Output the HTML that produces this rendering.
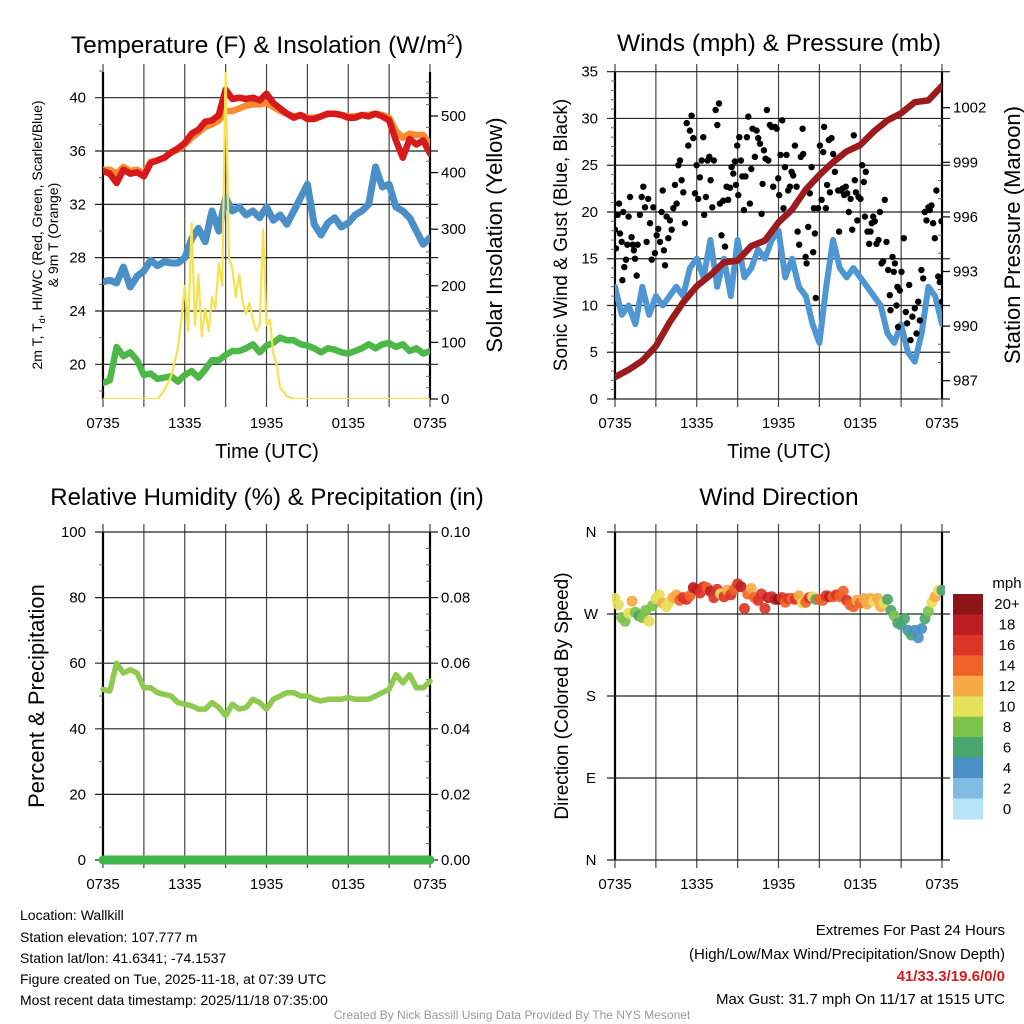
<!DOCTYPE html>
<html><head><meta charset="utf-8">
<style>
html,body{margin:0;padding:0;background:#fff;}
svg{display:block;font-family:"Liberation Sans",Arial,sans-serif;}
</style></head>
<body>
<svg id="root" width="1024" height="1024" viewBox="0 0 1024 1024" xmlns="http://www.w3.org/2000/svg">
<defs>
<clipPath id="c1"><rect x="103" y="72" width="327" height="327"/></clipPath>
<clipPath id="c2"><rect x="615" y="72" width="327" height="327"/></clipPath>
<clipPath id="c3"><rect x="95" y="528" width="345" height="340"/></clipPath>
<clipPath id="c4"><rect x="612" y="528" width="333" height="336"/></clipPath>
</defs>
<text x="267" y="53" font-size="24.5" text-anchor="middle">Temperature (F) &amp; Insolation (W/m<tspan dy="-9" font-size="15">2</tspan><tspan dy="9">)</tspan></text>
<text x="779" y="51" font-size="24.5" text-anchor="middle">Winds (mph) &amp; Pressure (mb)</text>
<text x="267" y="505" font-size="24" text-anchor="middle">Relative Humidity (%) &amp; Precipitation (in)</text>
<text x="779" y="505" font-size="24.5" text-anchor="middle">Wind Direction</text>

<text transform="translate(42,235) rotate(-90)" font-size="14" text-anchor="middle">2m T, T<tspan font-size="9" dy="3">d</tspan><tspan dy="-3">, HI/WC (Red, Green, Scarlet/Blue)</tspan></text>
<text transform="translate(58,235) rotate(-90)" font-size="14" text-anchor="middle">&amp; 9m T (Orange)</text>
<text transform="translate(502,235) rotate(-90)" font-size="22" text-anchor="middle">Solar Insolation (Yellow)</text>
<text x="267" y="458" font-size="20" text-anchor="middle">Time (UTC)</text>
<text x="779" y="458" font-size="20" text-anchor="middle">Time (UTC)</text>
<text transform="translate(567,235) rotate(-90)" font-size="19" text-anchor="middle">Sonic Wind &amp; Gust (Blue, Black)</text>
<text transform="translate(1020,235) rotate(-90)" font-size="22" text-anchor="middle">Station Pressure (Maroon)</text>
<text transform="translate(44,696) rotate(-90)" font-size="22" text-anchor="middle">Percent &amp; Precipitation</text>
<text transform="translate(568,696) rotate(-90)" font-size="19" text-anchor="middle">Direction (Colored By Speed)</text>

<g font-size="14">
<text x="20" y="920">Location: Wallkill</text>
<text x="20" y="942">Station elevation: 107.777 m</text>
<text x="20" y="963">Station lat/lon: 41.6341; -74.1537</text>
<text x="20" y="984">Figure created on Tue, 2025-11-18, at 07:39 UTC</text>
<text x="20" y="1005">Most recent data timestamp: 2025/11/18 07:35:00</text>
</g>
<g font-size="15" text-anchor="end">
<text x="1005" y="935">Extremes For Past 24 Hours</text>
<text x="1005" y="959">(High/Low/Max Wind/Precipitation/Snow Depth)</text>
<text x="1005" y="981" fill="#d7191c" font-weight="bold">41/33.3/19.6/0/0</text>
<text x="1005" y="1004">Max Gust: 31.7 mph On 11/17 at 1515 UTC</text>
</g>
<text x="512" y="1019" font-size="12" fill="#999" text-anchor="middle">Created By Nick Bassill Using Data Provided By The NYS Mesonet</text>
</svg>
<script>
// ---- data ----
const halfHours = [0,0.5,1,1.5,2,2.5,3,3.5,4,4.5,5,5.5,6,6.5,7,7.5,8,8.5,9,9.5,10,10.5,11,11.5,12,12.5,13,13.5,14,14.5,15,15.5,16,16.5,17,17.5,18,18.5,19,19.5,20,20.5,21,21.5,22,22.5,23,23.5,24];
const xTickLabels = ["0735","","1335","","1935","","0135","","0735"];
const tempRed = [34.5,34.3,33.6,34.6,34.3,34.4,34.1,35.1,35.3,35.5,35.9,36.2,36.6,37.3,37.6,38.2,38.3,38.7,40.6,39.9,40.0,39.9,40.0,39.8,40.3,39.6,39.2,38.8,38.5,38.7,38.4,38.4,38.6,38.8,38.8,38.7,38.5,38.5,38.7,38.6,38.8,38.6,38.3,36.8,35.5,36.9,36.5,36.8,35.8];
const tempOrange = [34.6,34.6,34.3,34.8,34.5,34.6,34.3,35.2,35.3,35.5,35.9,36.1,36.5,37.0,37.4,37.8,38.0,38.3,39.0,39.0,39.2,39.4,39.5,39.5,39.6,39.3,39.0,38.8,38.6,38.7,38.5,38.5,38.6,38.8,38.8,38.7,38.6,38.6,38.7,38.7,38.8,38.7,38.5,37.5,37.0,37.3,37.2,37.2,36.5];
const dewBlue = [26.2,26.3,26.1,27.3,25.8,26.6,27.0,27.8,27.4,27.7,27.6,27.6,28.0,29.4,30.2,29.2,31.5,30.0,32.5,31.5,31.8,31.2,31.5,31.0,31.8,30.8,31.2,30.5,31.5,32.5,33.5,30.5,29.7,30.6,31.0,30.3,30.6,31.2,31.5,32.0,34.8,33.3,33.5,31.8,31.5,31.0,30.0,29.0,29.5];
const heatGreen = [18.6,18.8,21.3,20.6,20.9,20.3,19.2,19.3,18.9,19.0,19.1,18.7,19.2,19.5,19.0,19.6,20.3,20.3,20.7,21.0,21.0,21.2,21.5,20.9,21.4,21.6,22.0,21.8,21.8,21.5,21.4,21.2,20.9,21.2,21.1,20.9,20.8,21.0,21.2,21.5,21.2,21.5,21.6,21.3,21.5,21.0,21.2,20.8,21.0];
const solarTimes = [0,4,4.5,5,5.5,5.75,6,6.25,6.5,6.75,7,7.25,7.5,7.75,8,8.25,8.5,8.75,9,9.25,9.5,9.75,10,10.25,10.5,10.75,11,11.25,11.5,11.75,12,12.25,12.5,12.75,13,13.5,14,24];
const solarValues = [0,0,15,40,90,140,200,120,310,130,220,110,160,120,180,160,240,200,578,250,230,180,220,170,150,170,140,120,130,300,130,140,80,60,20,5,0,0];
const tempTicks = [20,24,28,32,36,40];
const solarTicks = [0,100,200,300,400,500];

const windSpeed = [12,9,10,8,12,9,11,10,11,12,11,14,15,13,17,12,15,11,17,13,14,16,15,17,18,13,15,12,11,8,6,12,17,14,13,14,13,12,11,10,7,6,8,5,4,7,12,11,8];
const hours = [0,1,2,3,4,5,6,7,8,9,10,11,12,13,14,15,16,17,18,19,20,21,22,23,24];
const pressure = [987.2,987.6,988.1,988.9,990.2,991.3,992.2,992.8,993.5,993.6,994.4,994.7,995.7,996.4,997.5,998.3,999.0,999.6,999.95,1000.7,1001.3,1001.7,1002.3,1002.4,1003.2];
const gustTimes = [0,0.07,0.2,0.29,0.37,0.49,0.54,0.61,0.68,0.81,0.9,1.0,1.1,1.22,1.3,1.39,1.47,1.59,1.66,1.83,1.96,2.08,2.2,2.32,2.44,2.57,2.69,2.81,2.93,3.06,3.18,3.3,3.42,3.5,3.59,3.67,3.79,3.91,4.03,4.16,4.28,4.4,4.52,4.65,4.77,4.89,5.01,5.13,5.26,5.38,5.5,5.62,5.75,5.87,5.99,6.11,6.23,6.36,6.48,6.55,6.67,6.8,6.92,7.02,7.14,7.26,7.38,7.51,7.63,7.7,7.82,7.95,8.07,8.19,8.31,8.44,8.56,8.68,8.8,8.88,8.97,9.05,9.12,9.24,9.34,9.46,9.58,9.68,9.78,9.9,10.0,10.1,10.27,10.39,10.51,10.64,10.76,10.83,10.93,11.05,11.15,11.25,11.37,11.49,11.61,11.74,11.86,11.98,12.05,12.15,12.27,12.37,12.47,12.59,12.71,12.84,12.96,13.08,13.2,13.33,13.4,13.52,13.64,13.77,13.81,13.99,14.06,14.18,14.3,14.43,14.55,14.6,14.67,14.74,14.91,15.04,15.16,15.28,15.35,15.48,15.57,15.7,15.77,15.89,16.01,16.14,16.26,16.38,16.45,16.58,16.7,16.82,16.94,17.04,17.16,17.29,17.41,17.53,17.6,17.68,17.78,17.87,18.02,18.14,18.26,18.34,18.41,18.53,18.66,18.75,18.85,18.95,19.07,19.19,19.34,19.44,19.56,19.68,19.8,19.93,20.05,20.17,20.22,20.37,20.46,20.54,20.66,20.73,20.78,20.9,21.03,21.2,21.34,21.44,21.59,21.69,21.83,22.0,22.13,22.25,22.37,22.49,22.62,22.74,22.86,23.0,23.1,23.23,23.35,23.47,23.59,23.72,23.84,23.96,24.0];
const gustValues = [18.1,16.1,19.7,20.9,17.7,16.8,12.7,20.0,14.1,14.9,16.5,19.5,21.6,17.3,16.5,15.9,15.0,13.2,16.5,19.7,21.6,22.7,20.5,16.8,21.4,18.8,14.9,20.5,15.6,17.5,18.2,16.8,20.0,22.3,15.9,14.3,19.5,17.2,19.1,18.1,20.4,22.9,20.9,25.0,25.5,23.4,22.1,18.8,29.5,27.1,28.7,30.3,27.9,22.0,25.0,21.4,23.7,25.5,28.0,19.7,21.6,25.5,25.9,23.4,20.5,25.5,30.9,29.3,31.6,20.9,17.5,21.2,16.3,22.7,21.3,22.6,24.8,24.1,25.4,22.9,27.1,21.8,28.0,25.5,23.8,20.2,23.8,28.0,30.2,20.9,24.6,28.9,25.9,28.7,27.9,27.3,19.8,23.0,26.6,25.7,30.9,25.5,29.3,29.1,22.7,29.1,28.9,23.6,21.8,26.1,29.8,20.4,24.8,26.1,22.3,22.7,24.3,23.9,27.1,22.7,17.9,16.5,25.9,28.9,26.2,15.2,14.5,18.4,22.0,24.8,15.7,20.4,17.7,10.8,20.4,27.1,21.3,26.4,29.1,20.4,22.9,27.7,22.1,27.9,26.2,24.3,25.7,22.3,17.9,22.3,22.5,21.8,22.7,22.0,20.0,21.4,18.1,28.2,23.4,22.1,19.1,21.6,21.4,25.0,23.2,19.5,24.3,17.9,16.6,17.9,18.8,19.5,19.0,16.6,17.0,20.0,14.5,14.7,21.3,16.8,13.8,11.1,9.5,15.2,13.6,14.5,10.0,12.0,7.7,11.6,13.6,17.2,9.3,8.1,12.2,6.3,8.8,9.7,7.0,10.4,8.4,13.8,12.9,20.0,19.1,20.5,20.2,20.7,18.8,17.2,22.3,13.1,12.5,19.0,10.4];
const windTicks = [0,5,10,15,20,25,30,35];
const pressTicks = [987,990,993,996,999,1002];

const rhValues = [52,51.5,60,57,58,57,52.5,52.5,51,50.5,50,48,47.5,47,46,46,48,46.5,44,47.5,46,46.5,49,48,46,49,50,51,51,50,50,49,48.5,49,49,49,49.5,49,49,49,50,51,52,56.5,54,56.5,52.5,52.5,54.5];
const precipValues = [0,0,0,0,0,0,0,0,0,0,0,0,0,0,0,0,0,0,0,0,0,0,0,0,0,0,0,0,0,0,0,0,0,0,0,0,0,0,0,0,0,0,0,0,0,0,0,0,0];
const rhTicks = [0,20,40,60,80,100];
const precipTickLabels = ["0.00","0.02","0.04","0.06","0.08","0.10"];

const dirTimes = [0,0.25,0.5,0.75,1,1.25,1.5,1.75,2,2.25,2.5,2.75,3,3.25,3.5,3.75,4,4.25,4.5,4.75,5,5.25,5.5,5.75,6,6.25,6.5,6.75,7,7.25,7.5,7.75,8,8.25,8.5,8.75,9,9.25,9.5,9.75,10,10.25,10.5,10.75,11,11.25,11.5,11.75,12,12.25,12.5,12.75,13,13.25,13.5,13.75,14,14.25,14.5,14.75,15,15.25,15.5,15.75,16,16.25,16.5,16.75,17,17.25,17.5,17.75,18,18.25,18.5,18.75,19,19.25,19.5,19.75,20,20.25,20.5,20.75,21,21.25,21.5,21.75,22,22.25,22.5,22.75,23,23.25,23.5,23.75,24];
const dirValues = [287,280,266,262,271,284,272,268,266,274,262,279,287,291,282,278,283,288,291,285,288,286,290,299,297,293,300,299,295,288,297,292,289,296,291,297,303,300,276,292,298,288,285,292,276,288,289,286,286,288,283,287,287,286,290,282,283,288,289,286,286,285,290,289,289,291,289,295,285,280,278,285,282,287,281,287,284,287,278,282,286,274,268,260,258,265,252,247,252,244,254,265,273,283,289,296,296];
const dirSpeeds = [11,10,9,8,10,12,9,7,8,9,10,9,10,11,12,11,10,13,12,15,17,16,14,18,19,16,17,15,18,17,16,10,17,12,16,14,17,19,16,14,12,15,17,16,17,18,16,19,20,16,15,17,14,16,12,10,15,16,11,7,14,15,17,18,14,16,15,14,16,15,14,13,14,12,12,13,11,12,13,10,6,7,8,6,6,7,4,6,4,4,5,6,8,10,12,11,7];
const dirTicks = ["N","E","S","W","N"];
const speedBinLabels = ["0","2","4","6","8","10","12","14","16","18","20+"];
const speedBinColors = ["#b6e3f6","#7fbbe3","#4a8fc6","#4aa66f","#7dc24b","#e6e15b","#f6a945","#ef6329","#dc3427","#bd1e24","#8d1519"];

// ---- helpers ----
const NS = "http://www.w3.org/2000/svg";
const root = document.getElementById("root");
function mk(parent, tag, attrs, txt){
  const el = document.createElementNS(NS, tag);
  for (const k in attrs) el.setAttribute(k, attrs[k]);
  if (txt !== undefined) el.textContent = txt;
  parent.appendChild(el);
  return el;
}
function lin(d0,d1,r0,r1){ return v => r0 + (v-d0)*(r1-r0)/(d1-d0); }
function pathD(xs, ys, fx, fy){
  let d = "";
  for (let i=0;i<xs.length;i++){ d += (i?"L":"M") + fx(xs[i]).toFixed(1) + "," + fy(ys[i]).toFixed(1); }
  return d;
}

function frame(name, L, T, R, B){
  const g = mk(root, "g", {});
  
  
  const fx = lin(0,24,L,R);
  for (let i=0;i<=8;i++){
    const x = fx(i*3);
    const ln = mk(g, "line", {x1:x, y1:T-8, x2:x, y2:B+8, stroke:"#444", "stroke-width":1.2});
    
    
    if (xTickLabels[i]){
      const t = mk(g, "text", {x:x, y:B+29, "font-size":15, "text-anchor":"middle"}, xTickLabels[i]);
      
      
    }
  }
  const la = mk(g, "line", {x1:L, y1:T, x2:L, y2:B, stroke:"#000", "stroke-width":2.2});
  
  
  const ra = mk(g, "line", {x1:R, y1:T, x2:R, y2:B, stroke:"#000", "stroke-width":2.2});
  
  
  return {g, fx};
}
function hgrid(g, y, L, R){
  const ln = mk(g, "line", {x1:L-8, y1:y, x2:R+8, y2:y, stroke:"#222", "stroke-width":1.2});
  
  
}
function leftLabel(g, x, y, s, size){
  const t = mk(g, "text", {x:x, y:y+5, "font-size":size||15, "text-anchor":"end"}, s);
  
  
}
function rightLabel(g, x, y, s){
  const t = mk(g, "text", {x:x, y:y+5, "font-size":15, "text-anchor":"start"}, s);
  
  
}
function minor(g, x1, x2, y){
  const ln = mk(g, "line", {x1:x1, y1:y, x2:x2, y2:y, stroke:"#666", "stroke-width":1});
  
  
}

// ---- panel 1: temperature ----
{
  const L=103,T=72,R=430,B=399;
  const {g, fx} = frame("temperature", L,T,R,B);
  const fy = lin(20,40,364.3,97.7);
  const fs = lin(0,500,399,116);
  tempTicks.forEach(v => { hgrid(g, fy(v), L, R); leftLabel(g, L-17, fy(v), String(v)); });
  for (let v=18; v<=42; v+=2) if (v%4) minor(g, L-4, L, fy(v));
  solarTicks.forEach(v => { const y=fs(v); const tk=mk(g,"line",{x1:R,y1:y,x2:R+8,y2:y,stroke:"#000","stroke-width":1.2});   rightLabel(g, R+11, y, String(v)); });
  for (let v=20; v<=560; v+=20) if (v%100) minor(g, R-4, R, fs(v));
  const pg = mk(root, "g", {"clip-path":"url(#c1)", fill:"none", "stroke-linejoin":"round", "stroke-linecap":"round"});
  
  
  const s1 = mk(pg, "path", {d:pathD(halfHours, heatGreen, fx, fy), stroke:"#4db848", "stroke-width":6.5});
  
  
  const s2 = mk(pg, "path", {d:pathD(halfHours, dewBlue, fx, fy), stroke:"#4a8fc6", "stroke-width":7});
  
  
  const s3 = mk(pg, "path", {d:pathD(halfHours, tempOrange, fx, fy), stroke:"#f98b2e", "stroke-width":6.5});
  
  
  const s4 = mk(pg, "path", {d:pathD(halfHours, tempRed, fx, fy), stroke:"#d7191c", "stroke-width":6.5});
  
  
  const s5 = mk(pg, "path", {d:pathD(solarTimes, solarValues, fx, fs), stroke:"#f8e150", "stroke-width":2.2});
  
  
}

// ---- panel 2: winds ----
{
  const L=615,T=72,R=942,B=399;
  const {g, fx} = frame("winds", L,T,R,B);
  const fy = lin(0,35,399,71.7);
  const fp = lin(987,1002,380.7,107.7);
  windTicks.forEach(v => { hgrid(g, fy(v), L, R); leftLabel(g, L-17, fy(v), String(v)); });
  for (let v=1; v<35; v++) if (v%5) minor(g, L-4, L, fy(v));
  pressTicks.forEach(v => { const y=fp(v); const tk=mk(g,"line",{x1:R,y1:y,x2:R+8,y2:y,stroke:"#000","stroke-width":1.2});   rightLabel(g, R+11, y, String(v)); });
  for (let v=986; v<=1003.5; v+=1) if ((v-987)%3) minor(g, R-4, R, fp(v));
  const pg = mk(root, "g", {"clip-path":"url(#c2)", "stroke-linejoin":"round", "stroke-linecap":"round"});
  
  
  const w = mk(pg, "path", {d:pathD(halfHours, windSpeed, fx, fy), stroke:"#4f97d3", "stroke-width":6, fill:"none"});
  
  
  for (let i=0;i<gustTimes.length;i++){
    const c = mk(pg, "circle", {cx:fx(gustTimes[i]).toFixed(1), cy:fy(gustValues[i]).toFixed(1), r:3.2, fill:"#000"});
    
    
  }
  const p = mk(pg, "path", {d:pathD(hours, pressure, fx, fp), stroke:"#9b1b1e", "stroke-width":6.5, fill:"none"});
  
  
}

// ---- panel 3: humidity ----
{
  const L=103,T=532,R=430,B=860;
  const {g, fx} = frame("humidity", L,T,R,B);
  const fy = lin(0,100,860,532);
  rhTicks.forEach((v,i) => { hgrid(g, fy(v), L, R); leftLabel(g, L-17, fy(v), String(v)); rightLabel(g, R+11, fy(v), precipTickLabels[i]); });
  for (let v=10; v<100; v+=20) minor(g, L-4, L, fy(v));
  for (let v=5; v<100; v+=5) if (v%20) minor(g, R-4, R, fy(v));
  const fpz = lin(0,0.1,860,532);
  const pg = mk(root, "g", {"clip-path":"url(#c3)", fill:"none", "stroke-linejoin":"round", "stroke-linecap":"round"});
  
  
  const pr = mk(pg, "path", {d:pathD(halfHours, precipValues, fx, fpz), stroke:"#3fb64a", "stroke-width":9});
  
  
  const rh = mk(pg, "path", {d:pathD(halfHours, rhValues, fx, fy), stroke:"#8fc94f", "stroke-width":5.5});
  
  
}

// ---- panel 4: wind direction ----
{
  const L=615,T=532,R=942,B=860;
  const {g, fx} = frame("direction", L,T,R,B);
  const fy = lin(0,360,860,532);
  dirTicks.forEach((s,i) => {
    const y = fy(i*90);
    hgrid(g, y, L, R);
    const t = mk(g, "text", {x:591, y:y+5, "font-size":15, "text-anchor":"middle"}, s);
    
    
  });
  const pg = mk(root, "g", {"clip-path":"url(#c4)"});
  
  
  for (let i=0;i<dirTimes.length;i++){
    const bin = Math.min(10, Math.max(0, Math.floor(dirSpeeds[i]/2)));
    const c = mk(pg, "circle", {cx:fx(dirTimes[i]).toFixed(1), cy:fy(dirValues[i]).toFixed(1), r:5.5, fill:speedBinColors[bin], "fill-opacity":0.92});
    
    
  }
  const cb = mk(root, "g", {});
  
  
  const ct = mk(cb, "text", {x:1007, y:588, "font-size":15, "text-anchor":"middle"}, "mph");
  
  
  const top=594, h=(819-594)/11;
  for (let i=0;i<11;i++){
    const k = 10-i;
    const r = mk(cb, "rect", {x:953, y:(top+i*h).toFixed(1), width:30, height:(h+0.5).toFixed(1), fill:speedBinColors[k]});
    
    
    const t = mk(cb, "text", {x:1007, y:(top+i*h+h/2+5).toFixed(1), "font-size":15, "text-anchor":"middle"}, speedBinLabels[k]);
    
    
  }
}
</script>
</body></html>
